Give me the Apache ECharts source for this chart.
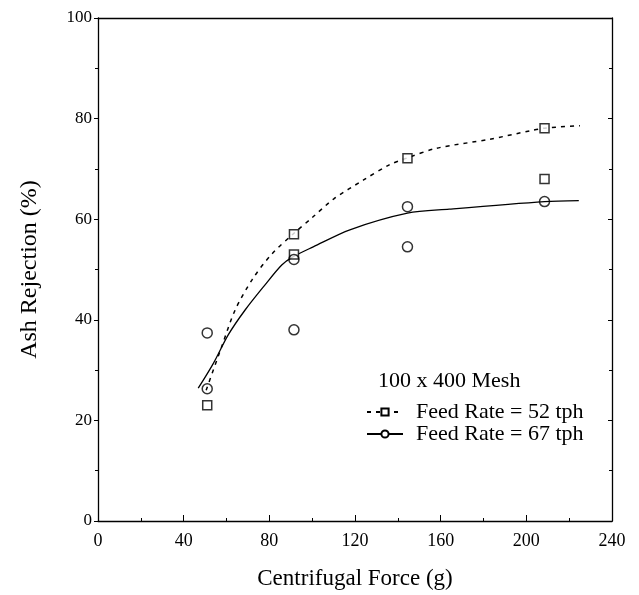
<!DOCTYPE html>
<html>
<head>
<meta charset="utf-8">
<script src="https://cdn.jsdelivr.net/npm/echarts@6/dist/echarts.min.js"></script>
<style>
  html, body { margin: 0; padding: 0; background: #fff; }
  #chart { width: 639px; height: 595px; }
</style>
</head>
<body>
<div id="chart"></div>
<script>
// measured points
const sqForce = [51, 91.5, 91.5, 144.5, 208.5, 208.5]
const sqAsh = [23, 57, 53, 72.1, 78.1, 68]
const ciForce = [51, 51, 91.5, 91.5, 144.5, 144.5, 208.5]
const ciAsh = [37.4, 26.3, 38, 52, 62.5, 54.5, 63.5]

// fitted curves
const fit52Force = [50.5, 57.7, 64, 72, 81, 91.5, 100, 110, 124, 136, 144.5, 158, 183, 202, 208.5, 225]
const fit52Ash = [26, 34.6, 41.9, 48, 53, 57.2, 60.3, 64, 67.8, 70.8, 72.2, 74.1, 75.9, 77.6, 78.1, 78.6]
const fit67Force = [46.8, 53.8, 60.8, 68.6, 77.9, 85.8, 91, 100.5, 117.6, 144.5, 164, 208.5, 224.5]
const fit67Ash = [26.4, 31.3, 37, 41.9, 46.9, 50.9, 52.5, 54.5, 57.9, 61.2, 62, 63.5, 63.7]

const seriesNames = ['Feed Rate = 52 tph', 'Feed Rate = 67 tph']
const legendTitle = '100 x 400 Mesh'

const zip = (a, b) => a.map((v, i) => [v, b[i]])
const serif = 'Liberation Serif, Times New Roman, serif'

const chart = echarts.init(document.getElementById('chart'))

const option = {
  backgroundColor: '#fff',
  animation: false,
  textStyle: { fontFamily: serif, color: '#000' },
  title: {
    text: legendTitle,
    left: 373,
    top: 365,
    textStyle: { fontFamily: serif, fontSize: 22, fontWeight: 'normal', color: '#000' }
  },
  legend: {
    data: seriesNames,
    orient: 'vertical',
    left: 361,
    top: 396,
    itemWidth: 36,
    itemHeight: 9,
    itemGap: 0,
    textStyle: { fontFamily: serif, fontSize: 22, color: '#000', padding: [0, 0, 0, 8] }
  },
  grid: { left: 98, right: 27, top: 18, bottom: 74 },
  xAxis: [{
    type: 'value',
    min: 0, max: 240, interval: 40,
    name: 'Centrifugal Force (g)',
    nameLocation: 'middle',
    nameGap: 46,
    nameTextStyle: { fontFamily: serif, fontSize: 23, color: '#000' },
    axisLine: { onZero: false, lineStyle: { color: '#000', width: 1.3 } },
    axisTick: { inside: true, length: 6, lineStyle: { color: '#000' } },
    minorTick: { show: true, splitNumber: 2, length: 3, lineStyle: { color: '#000' } },
    axisLabel: { fontFamily: serif, fontSize: 18, color: '#000', margin: 11 },
    splitLine: { show: false }
  }, {
    type: 'value', position: 'top',
    min: 0, max: 240,
    axisLine: { show: true, onZero: false, lineStyle: { color: '#000', width: 1.3 } },
    axisTick: { show: false }, axisLabel: { show: false }, splitLine: { show: false }
  }],
  yAxis: [{
    type: 'value',
    min: 0, max: 100, interval: 20,
    name: 'Ash Rejection (%)',
    nameLocation: 'middle',
    nameGap: 56,
    nameTextStyle: { fontFamily: serif, fontSize: 24, color: '#000' },
    axisLine: { show: true, onZero: false, lineStyle: { color: '#000', width: 1.3 } },
    axisTick: { show: true, length: 4, lineStyle: { color: '#000' } },
    minorTick: { show: true, splitNumber: 2, length: 3, lineStyle: { color: '#000' } },
    axisLabel: { fontFamily: serif, fontSize: 17, color: '#000', margin: 6 },
    splitLine: { show: false }
  }, {
    type: 'value', position: 'right',
    min: 0, max: 100, interval: 20,
    axisLine: { show: true, onZero: false, lineStyle: { color: '#000', width: 1.3 } },
    axisTick: { show: true, inside: true, length: 4, lineStyle: { color: '#000' } },
    minorTick: { show: true, splitNumber: 2, length: 3, lineStyle: { color: '#000' } },
    axisLabel: { show: false }, splitLine: { show: false }
  }],
  series: [
    {
      name: seriesNames[0],
      type: 'line',
      data: zip(fit52Force, fit52Ash),
      smooth: 0.3,
      symbol: 'emptyRect',
      symbolSize: 8,
      showSymbol: false,
      lineStyle: { color: '#000', width: 1.5, type: [4, 5] },
      itemStyle: { color: '#000', borderColor: '#000', borderWidth: 1.3 }
    },
    {
      name: seriesNames[1],
      type: 'line',
      data: zip(fit67Force, fit67Ash),
      smooth: 0.3,
      symbol: 'emptyCircle',
      symbolSize: 8,
      showSymbol: false,
      lineStyle: { color: '#000', width: 1.3 },
      itemStyle: { color: '#000', borderColor: '#000', borderWidth: 1.3 }
    },
    {
      name: 'sq',
      type: 'scatter',
      data: zip(sqForce, sqAsh),
      symbol: 'rect',
      symbolSize: 9,
      itemStyle: { color: '#fff', borderColor: '#000', borderWidth: 1.5 },
      z: 5
    },
    {
      name: 'ci',
      type: 'scatter',
      data: zip(ciForce, ciAsh),
      symbol: 'circle',
      symbolSize: 10,
      itemStyle: { color: 'rgba(0,0,0,0)', borderColor: '#000', borderWidth: 1.5 },
      z: 5
    }
  ]
}

chart.setOption(option)
</script>
</body>
</html>
